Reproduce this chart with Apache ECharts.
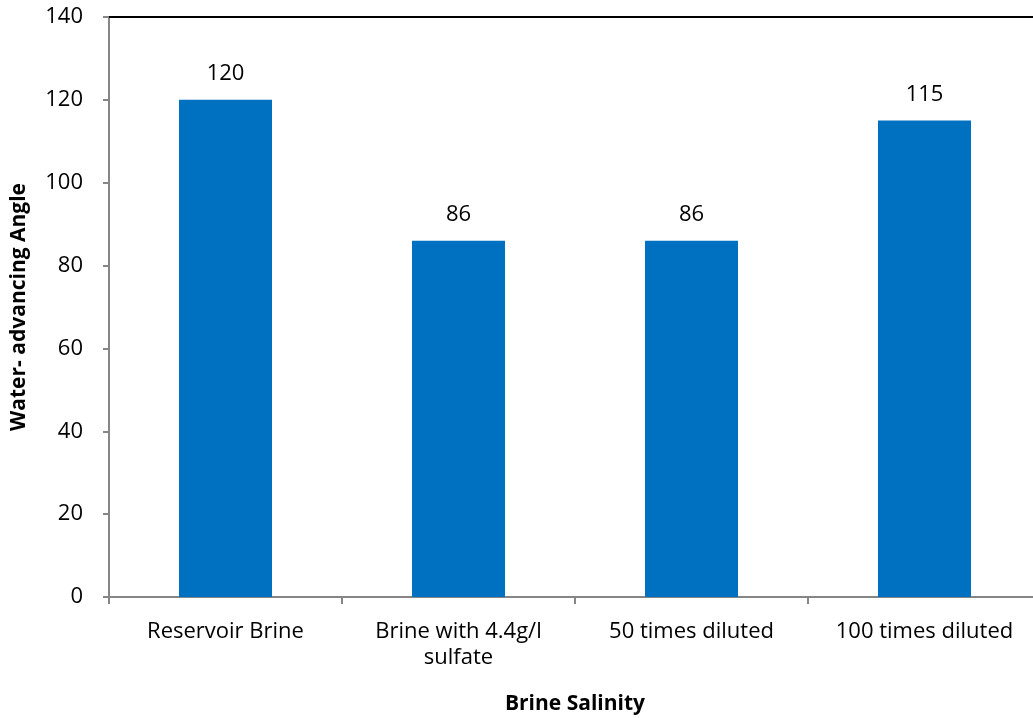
<!DOCTYPE html>
<html><head><meta charset="utf-8">
<script src="https://cdn.jsdelivr.net/npm/echarts@6/dist/echarts.min.js"></script>
<style>html,body{margin:0;padding:0;background:#fff}#c{width:1033px;height:718px}</style>
</head><body><div id="c"></div>
<script>
const categories = ["Reservoir Brine", "Brine with 4.4g/l\nsulfate", "50 times diluted", "100 times diluted"];
const values = [120, 86, 86, 115];
const yTicks = [0, 20, 40, 60, 80, 100, 120, 140];
const xTitle = "Brine Salinity";
const yTitle = "Water- advancing Angle";

const FONT = "Open Sans";
const chart = echarts.init(document.getElementById('c'), null, {renderer: 'canvas'});
chart.setOption({
  animation: false,
  backgroundColor: '#fff',
  grid: {left: 109, right: -8, top: 17, bottom: 121, containLabel: false, outerBoundsMode: 'none'},
  xAxis: [{
    type: 'category', data: categories, position: 'bottom',
    axisLine: {lineStyle: {color: '#868686', width: 2}},
    axisTick: {show: true, alignWithLabel: false, length: 7, lineStyle: {color: '#868686', width: 2}},
    axisLabel: {color: '#000', fontFamily: FONT, fontSize: 22, margin: 22, lineHeight: 26, interval: 0},
    name: xTitle, nameLocation: 'middle', nameGap: 97,
    nameTextStyle: {color: '#000', fontFamily: FONT, fontSize: 21, fontWeight: 'bold'}
  }, {
    type: 'category', data: categories, position: 'top',
    axisLine: {show: true, lineStyle: {color: '#000', width: 2}},
    axisTick: {show: false}, axisLabel: {show: false}
  }],
  yAxis: {
    type: 'value', min: yTicks[0], max: yTicks[yTicks.length - 1], interval: 20,
    axisLine: {show: true, lineStyle: {color: '#868686', width: 2}},
    axisTick: {show: true, length: 6, lineStyle: {color: '#868686', width: 2}},
    splitLine: {show: false},
    axisLabel: {color: '#000', fontFamily: FONT, fontSize: 22, margin: 26},
    name: yTitle, nameLocation: 'middle', nameGap: 79, nameRotate: 90,
    nameTextStyle: {color: '#000', fontFamily: FONT, fontSize: 21, fontWeight: 'bold'}
  },
  series: [{
    type: 'bar', data: values, barWidth: 93, xAxisIndex: 0,
    itemStyle: {color: '#0070C0'},
    label: {show: true, position: 'top', distance: 15, color: '#000', fontFamily: FONT, fontSize: 22}
  }]
});
</script></body></html>
